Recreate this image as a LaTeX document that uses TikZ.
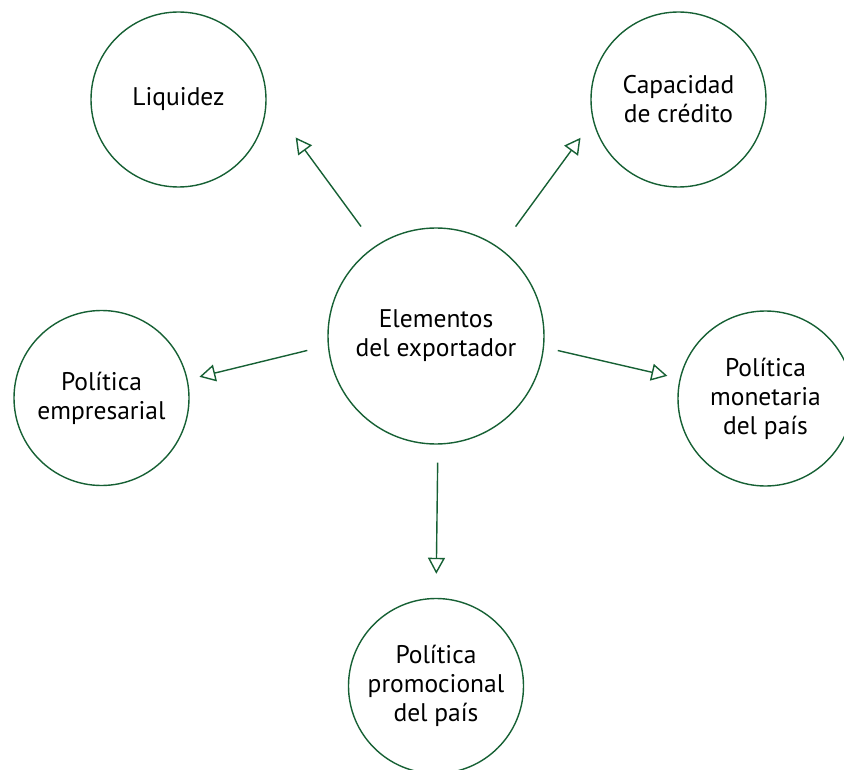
\documentclass[tikz,border=0pt]{standalone}
\usepackage{fontspec}
\setmainfont{PT Sans}
\usepackage{xcolor}
\usetikzlibrary{arrows.meta}

\definecolor{verde}{RGB}{22,96,52}

\begin{document}
\begin{tikzpicture}[x=1pt,y=-1pt,
        burbuja/.style={circle,draw=verde,line width=1.4pt,inner sep=0pt,
            align=center,font=\fontsize{25.5}{29}\selectfont},
        flecha/.style={draw=verde,line width=1.4pt,
            -{Triangle[open,length=16pt,width=17pt]}}]
                \useasboundingbox (0,0) rectangle (844,770);

                \node[burbuja,minimum size=216pt] (elementos) at (436,336) {Elementos\\del exportador};
                \node[burbuja,minimum size=175pt] (liquidez) at (178.5,99.5) {Liquidez};
                \node[burbuja,minimum size=175pt] (credito) at (678.5,99.5) {Capacidad\\de crédito};
                \node[burbuja,minimum size=175pt] (empresarial) at (101.5,398) {Política\\empresarial};
                \node[burbuja,minimum size=175pt] (monetaria) at (765.5,398.5) {Política\\monetaria\\del país};
                \node[burbuja,minimum size=175pt] (promocional) at (436,686) {Política\\promocional\\del país};

                \draw[flecha,shorten <=24pt,shorten >=49pt] (elementos.124.3) -- (liquidez.1.6);
                \draw[flecha,shorten <=26.6pt,shorten >=21pt] (elementos.54.1) -- (credito.-166.5);
                \draw[flecha,shorten <=21pt,shorten >=12pt] (elementos.185.4) -- (empresarial.12.1);
                \draw[flecha,shorten <=14pt,shorten >=12.5pt] (elementos.-6.9) -- (monetaria.167.6);
                \draw[flecha,shorten <=18pt,shorten >=24pt] (elementos.-89.1) -- (promocional.90.3);
            \end{tikzpicture}
\end{document}
